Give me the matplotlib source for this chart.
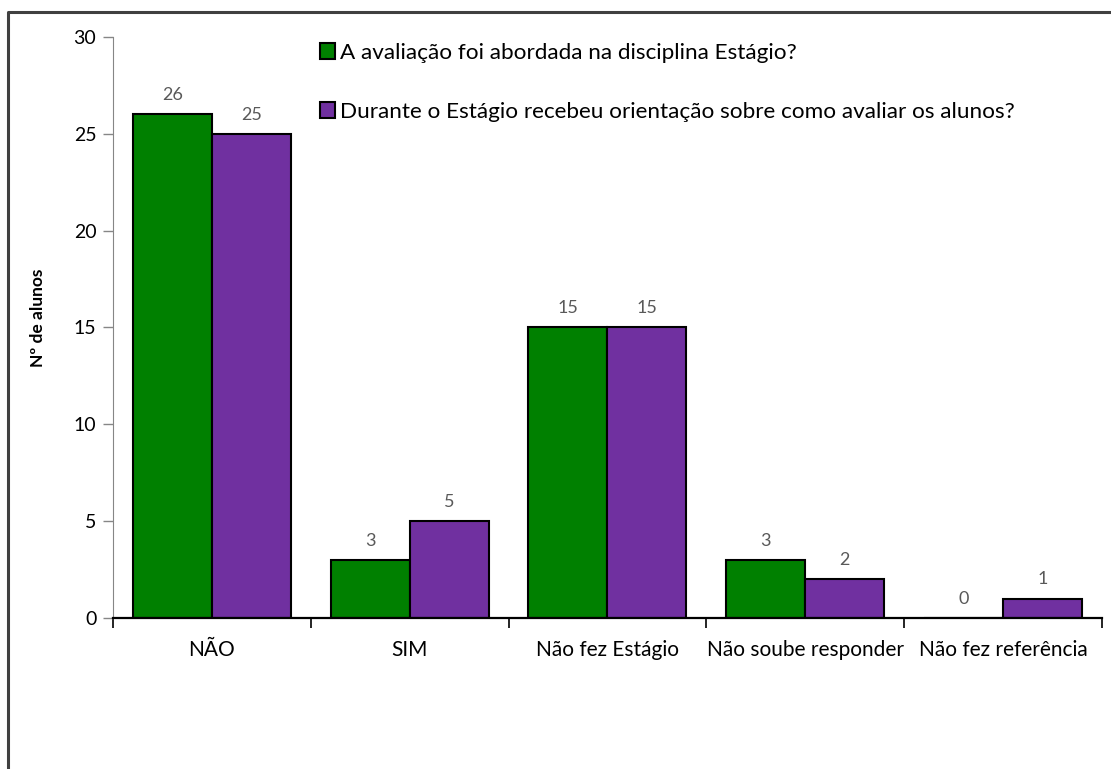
import numpy as np
import matplotlib.pyplot as plt
from matplotlib.lines import Line2D

plt.rcParams['font.family'] = ['Lato', 'DejaVu Sans']

categorias = ["NÃO", "SIM", "Não fez Estágio", "Não soube responder", "Não fez referência"]
abordada = [26, 3, 15, 3, 0]
orientacao = [25, 5, 15, 2, 1]
series_nomes = ["A avaliação foi abordada na disciplina Estágio?",
                "Durante o Estágio recebeu orientação sobre como avaliar os alunos?"]

verde = "#008000"
roxo = "#7030A0"

fig = plt.figure(figsize=(11.11, 7.69), dpi=100)
ax = fig.add_axes([0.1017, 0.1964, 0.890, 0.7555])

x = np.arange(len(categorias))
w = 0.4
b1 = ax.bar(x - w / 2, abordada, w, color=verde, edgecolor="black", linewidth=1.5,
            label=series_nomes[0], zorder=3)
b2 = ax.bar(x + w / 2, orientacao, w, color=roxo, edgecolor="black", linewidth=1.5,
            label=series_nomes[1], zorder=3)

for barras, vals in [(b1, abordada), (b2, orientacao)]:
    for r, v in zip(barras, vals):
        ax.annotate(str(v), (r.get_x() + r.get_width() / 2, v), xytext=(0, 8),
                    textcoords="offset points", ha="center", va="bottom",
                    fontsize=13, color="#595959")

ax.set_xlim(-0.5, len(categorias) - 0.5)
ax.set_ylim(0, 30)
ax.set_yticks(range(0, 31, 5))
ax.set_xticks(x)
ax.set_xticklabels(categorias, fontsize=15)
ax.set_xticks(np.arange(-0.5, len(categorias), 1), minor=True)
ax.tick_params(axis="x", which="major", length=0, pad=16)
ax.tick_params(axis="x", which="minor", length=7, width=1.2, direction="out")
ax.tick_params(axis="y", length=7, width=1, colors="#868686", labelcolor="black",
               labelsize=14, pad=5)

for s in ["top", "right"]:
    ax.spines[s].set_visible(False)
ax.spines["left"].set_color("#868686")
ax.spines["bottom"].set_linewidth(1.6)
ax.spines["bottom"].set_zorder(4)

ax.set_ylabel("Nº de alunos", fontsize=12.5, fontweight="bold")
ax.yaxis.set_label_coords(-0.068, 0.517)

ax.legend(loc="upper left", bbox_to_anchor=(0.2, 1.005), frameon=False,
          fontsize=16.2, handlelength=0.7, handleheight=0.7, handletextpad=0.2,
          labelspacing=1.72, borderaxespad=0)

# moldura do quadro
fig.add_artist(Line2D([0.0075, 0.0075, 1.0], [0.0, 0.984, 0.984],
                      transform=fig.transFigure, color="#404040", linewidth=2.2))

fig.savefig("out.png", dpi=100)
